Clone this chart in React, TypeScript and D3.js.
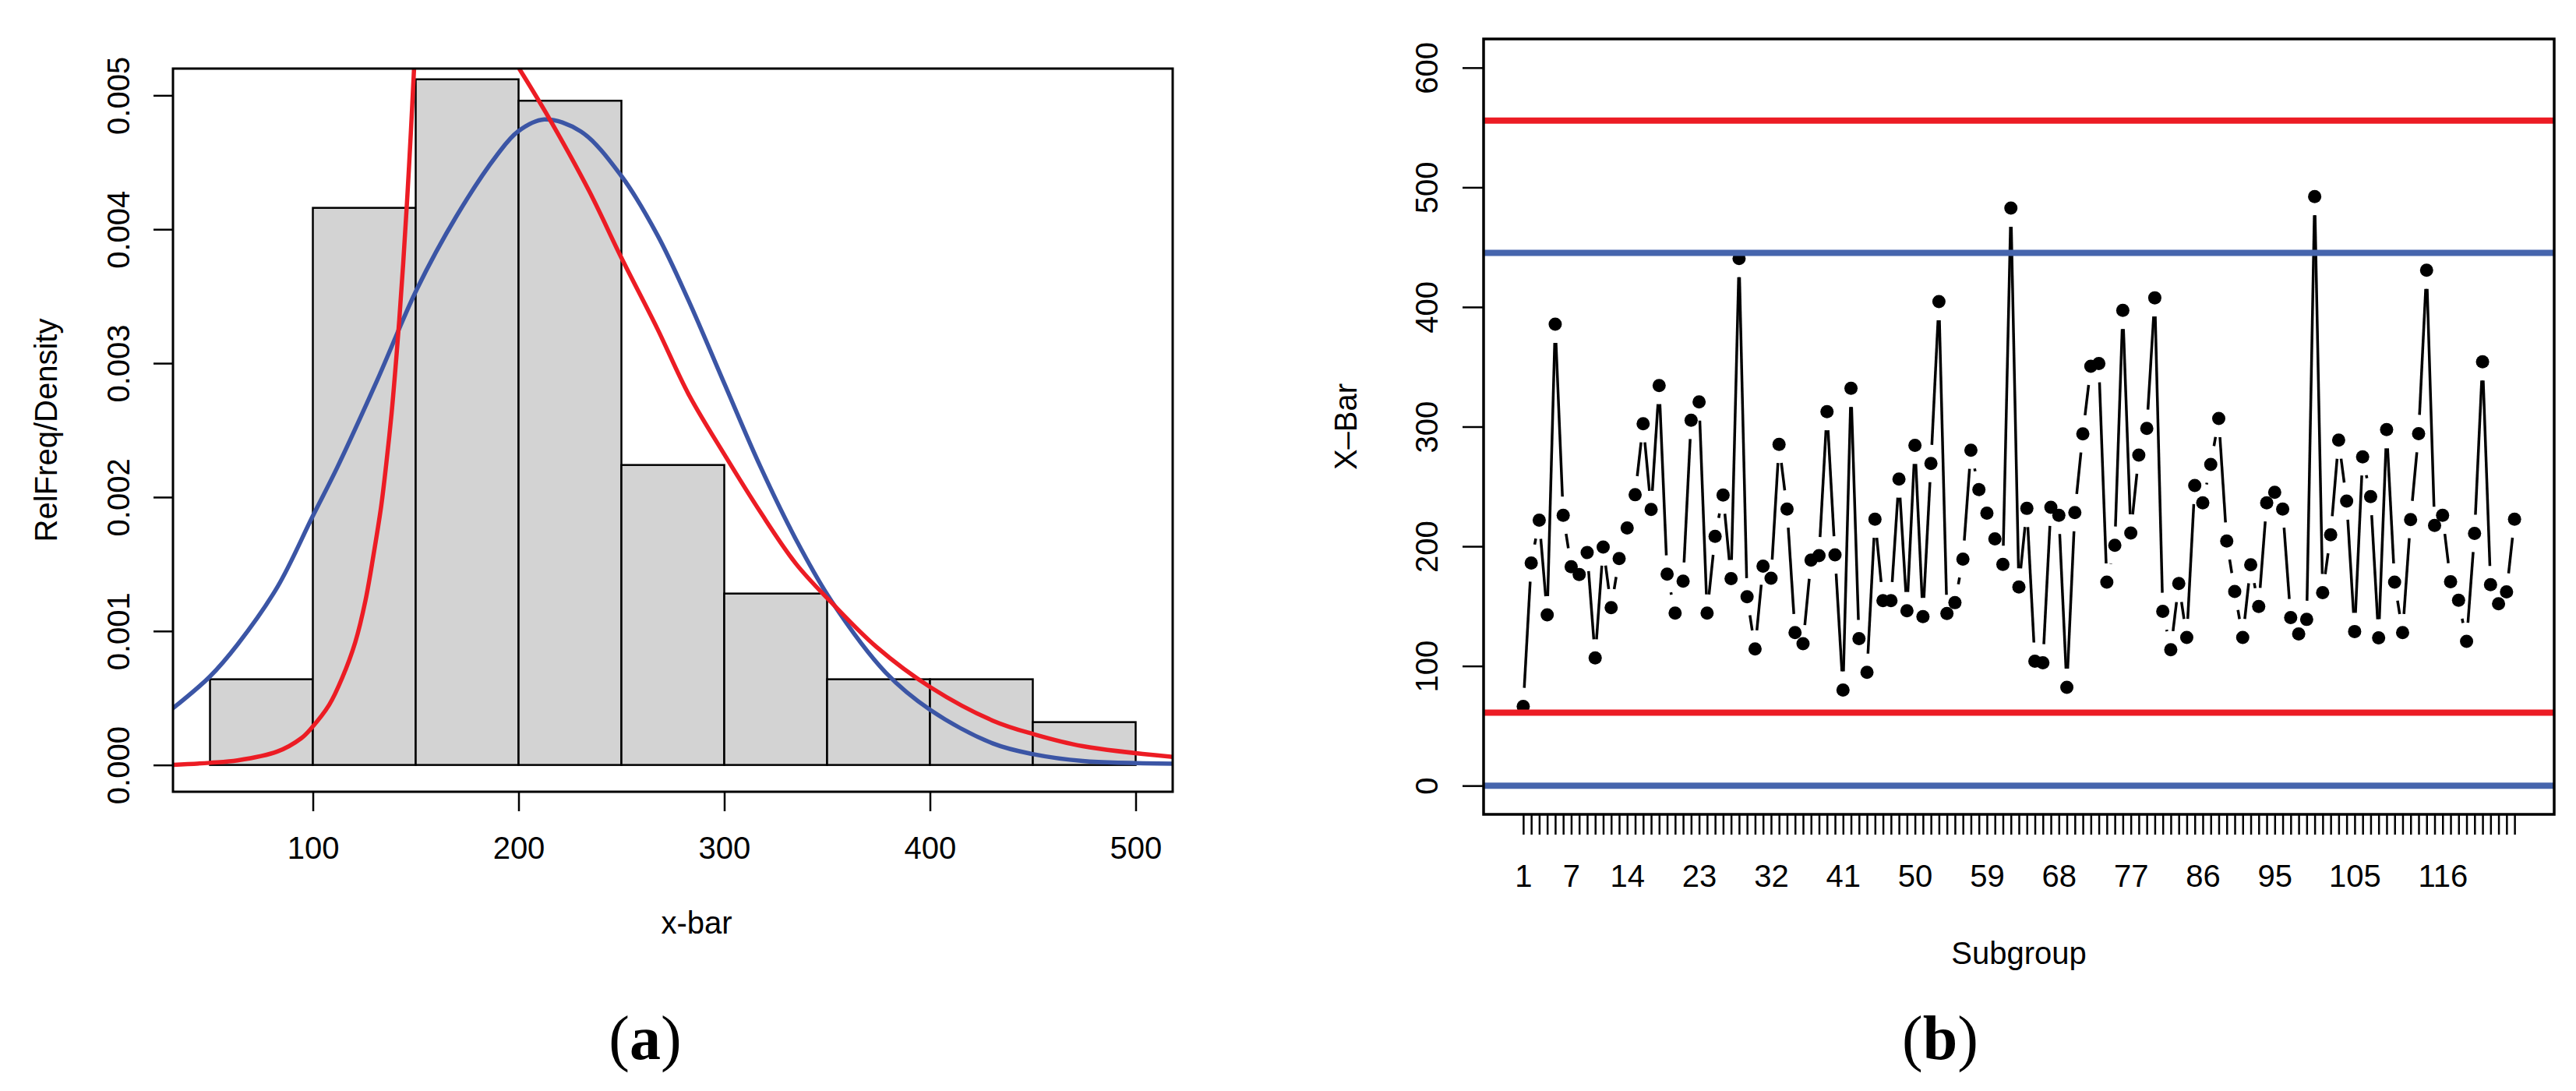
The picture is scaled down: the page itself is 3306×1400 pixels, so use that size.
import React, { useEffect, useRef } from "react";
import * as d3 from "d3";

// ---- panel (a): histogram of subgroup means, density scale ----
const binEdges = [50, 100, 150, 200, 250, 300, 350, 400, 450, 500];
const binDensity = [0.00064, 0.00416, 0.00512, 0.00496, 0.00224, 0.00128, 0.00064, 0.00064, 0.00032];

// blue fitted curve
const normalX = [31.7, 49.9, 63.4, 82.8, 100, 111.8, 131.2, 150.5, 169.9, 189.3, 199.7, 212.5, 230.3, 249.9, 267.4, 282.6, 300, 317.5, 335, 352.3, 378.5, 400.3, 430.7, 450.4, 474.3, 518];
const normalY = [0.00042, 0.00066, 0.0009, 0.00133, 0.00186, 0.00222, 0.00287, 0.00355, 0.00410, 0.00455, 0.00473, 0.00482, 0.00473, 0.0044, 0.00396, 0.00347, 0.00285, 0.00223, 0.00168, 0.00122, 0.00069, 0.00041, 0.00016, 0.00008, 0.00003, 0.00001];

// red fitted curve: rising branch runs off the top, falling branch comes back in
const redRiseX = [31.7, 49.9, 63.4, 82.7, 94.4, 99, 107.9, 114.2, 120.6, 125.6, 129.4, 133.2, 135.7, 138.3, 140.2, 142, 143.9, 145.8, 147.7, 149.2];
const redRiseY = [0, 0.000016, 0.000034, 0.0001, 0.0002, 0.00027, 0.000448, 0.000648, 0.000916, 0.00123, 0.00156, 0.00193, 0.00225, 0.00263, 0.00297, 0.00332, 0.00374, 0.00421, 0.00474, 0.0052];
const redFallX = [200.3, 213.3, 234.5, 249.9, 267.4, 282.6, 300, 317.5, 335, 352.3, 374.1, 400.3, 430.7, 450.4, 474.3, 518];
const redFallY = [0.0052, 0.00487, 0.00428, 0.00379, 0.00326, 0.00277, 0.00232, 0.00189, 0.0015, 0.00121, 0.00088, 0.00058, 0.00033, 0.00023, 0.00014, 0.00006];

const densityTicks = [0, 0.001, 0.002, 0.003, 0.004, 0.005];
const xbarTicks = [100, 200, 300, 400, 500];

// ---- panel (b): X-bar chart ----
const subgroupMeans = [
  66.2, 186.1, 221.8, 142.7, 385.6, 225.9, 182.9, 176.5, 194.8, 106.7,
  199.4, 148.8, 189.8, 215.4, 243.1, 302.4, 230.8, 334.4, 176.8, 144.2,
  170.9, 305.3, 320.7, 144.2, 208.4, 242.8, 173.0, 440.5, 157.8, 114.2,
  183.4, 173.3, 285.2, 231.2, 127.9, 118.6, 188.4, 192.2, 312.6, 192.8,
  79.9, 332.1, 122.9, 94.7, 222.7, 154.6, 154.6, 256.2, 146.2, 284.4,
  141.3, 269.2, 404.5, 143.9, 152.9, 189.3, 280.3, 247.4, 227.7, 206.2,
  184.9, 482.7, 166.0, 231.7, 104.0, 102.6, 232.6, 225.9, 82.2, 228.2,
  294.0, 350.4, 352.7, 170.1, 200.9, 397.2, 211.1, 276.2, 298.6, 407.7,
  145.6, 113.6, 168.9, 123.8, 250.9, 236.4, 268.4, 306.8, 204.4, 162.2,
  123.8, 184.6, 149.7, 236.4, 245.1, 231.1, 140.4, 126.7, 138.9, 492.3,
  161.3, 209.6, 288.7, 237.8, 128.8, 274.8, 241.6, 123.5, 297.5, 170.1,
  127.9, 222.4, 294.2, 430.7, 217.5, 225.9, 170.4, 154.9, 120.6, 210.8,
  354.2, 168.0, 152.0, 161.9, 222.7,
];
const subgroupLabels = [1, 7, 14, 23, 32, 41, 50, 59, 68, 77, 86, 95, 105, 116];
const meanTicks = [0, 100, 200, 300, 400, 500, 600];
const redLimits = [555.8, 61];
const blueLimits = [445.2, 0];

const RED = "#ec1c24";
const BLUE_A = "#3b55a5";
const BLUE_B = "#4665ad";
const SANS = "'Liberation Sans', Arial, Helvetica, sans-serif";

type Sel = d3.Selection<SVGSVGElement, unknown, null, undefined>;

function drawHistogram(svg: Sel) {
  const box = { left: 222, right: 1505, top: 88, bottom: 1016 };
  const x = d3.scaleLinear().domain([32, 518]).range([box.left, box.right]);
  const y = d3.scaleLinear().domain([-0.0002, 0.0052]).range([box.bottom, box.top]);

  svg.append("clipPath").attr("id", "clipA")
    .append("rect")
    .attr("x", box.left).attr("y", box.top)
    .attr("width", box.right - box.left).attr("height", box.bottom - box.top);

  const bins = binDensity.map((d, i) => ({ x0: binEdges[i], x1: binEdges[i + 1], d }));
  svg.append("g").selectAll("rect").data(bins).enter().append("rect")
    .attr("x", d => x(d.x0))
    .attr("y", d => y(d.d))
    .attr("width", d => x(d.x1) - x(d.x0))
    .attr("height", d => y(0) - y(d.d))
    .attr("fill", "#d3d3d3")
    .attr("stroke", "#000")
    .attr("stroke-width", 2.5);

  const line = d3.line<[number, number]>()
    .x(d => x(d[0])).y(d => y(d[1]))
    .curve(d3.curveCatmullRom.alpha(0.5));

  const curves = svg.append("g").attr("clip-path", "url(#clipA)").attr("fill", "none").attr("stroke-width", 5.5);
  curves.append("path").attr("d", line(normalX.map((v, i) => [v, normalY[i]]))).attr("stroke", BLUE_A);
  curves.append("path").attr("d", line(redRiseX.map((v, i) => [v, redRiseY[i]]))).attr("stroke", RED);
  curves.append("path").attr("d", line(redFallX.map((v, i) => [v, redFallY[i]]))).attr("stroke", RED);

  svg.append("rect")
    .attr("x", box.left).attr("y", box.top)
    .attr("width", box.right - box.left).attr("height", box.bottom - box.top)
    .attr("fill", "none").attr("stroke", "#000").attr("stroke-width", 3);

  const yAxis = svg.append("g")
    .attr("transform", `translate(${box.left},0)`)
    .call(d3.axisLeft(y).tickValues(densityTicks).tickSize(25).tickFormat(d3.format(".3f")));
  yAxis.select(".domain").remove();
  yAxis.selectAll("line").attr("stroke-width", 2.5);
  yAxis.selectAll("text")
    .attr("x", null).attr("dy", null)
    .attr("transform", "translate(-56,0) rotate(-90)")
    .attr("text-anchor", "middle");
  yAxis.attr("font-family", SANS).attr("font-size", 40);

  const xAxis = svg.append("g")
    .attr("transform", `translate(0,${box.bottom})`)
    .call(d3.axisBottom(x).tickValues(xbarTicks).tickSize(25).tickFormat(d3.format("d")));
  xAxis.select(".domain").remove();
  xAxis.selectAll("line").attr("stroke-width", 2.5);
  xAxis.selectAll("text").attr("y", 86).attr("dy", null);
  xAxis.attr("font-family", SANS).attr("font-size", 40);

  svg.append("text")
    .attr("transform", `translate(73,${(box.top + box.bottom) / 2}) rotate(-90)`)
    .attr("text-anchor", "middle")
    .attr("font-family", SANS).attr("font-size", 40)
    .text("RelFreq/Density");

  svg.append("text")
    .attr("x", 894).attr("y", 1198)
    .attr("text-anchor", "middle")
    .attr("font-family", SANS).attr("font-size", 40)
    .text("x-bar");
}

function drawXbar(svg: Sel) {
  const box = { left: 1904, right: 3278, top: 50, bottom: 1045 };
  const n = subgroupMeans.length;
  const x = d3.scaleLinear().domain([1 - (n - 1) * 0.04, n + (n - 1) * 0.04]).range([box.left, box.right]);
  const y = d3.scaleLinear().domain([-24, 624]).range([box.bottom, box.top]);

  svg.append("clipPath").attr("id", "clipB")
    .append("rect")
    .attr("x", box.left).attr("y", box.top)
    .attr("width", box.right - box.left).attr("height", box.bottom - box.top);

  const plot = svg.append("g").attr("clip-path", "url(#clipB)");

  // type = "b": segments stop short of each point
  const gap = 24;
  const pts = subgroupMeans.map((v, i) => [x(i + 1), y(v)]);
  const segs: number[][] = [];
  for (let i = 0; i < pts.length - 1; i++) {
    const [x1, y1] = pts[i];
    const [x2, y2] = pts[i + 1];
    const len = Math.hypot(x2 - x1, y2 - y1);
    if (len <= 2 * gap) continue;
    const ux = (x2 - x1) / len, uy = (y2 - y1) / len;
    segs.push([x1 + ux * gap, y1 + uy * gap, x2 - ux * gap, y2 - uy * gap]);
  }
  plot.append("g").selectAll("line").data(segs).enter().append("line")
    .attr("x1", d => d[0]).attr("y1", d => d[1])
    .attr("x2", d => d[2]).attr("y2", d => d[3])
    .attr("stroke", "#000").attr("stroke-width", 3.5);

  plot.append("g").selectAll("circle").data(subgroupMeans).enter().append("circle")
    .attr("cx", (d, i) => x(i + 1))
    .attr("cy", d => y(d))
    .attr("r", 8.5)
    .attr("fill", "#000");

  plot.append("g").selectAll("line").data(redLimits).enter().append("line")
    .attr("x1", box.left).attr("x2", box.right)
    .attr("y1", d => y(d)).attr("y2", d => y(d))
    .attr("stroke", RED).attr("stroke-width", 8);
  plot.append("g").selectAll("line").data(blueLimits).enter().append("line")
    .attr("x1", box.left).attr("x2", box.right)
    .attr("y1", d => y(d)).attr("y2", d => y(d))
    .attr("stroke", BLUE_B).attr("stroke-width", 8);

  svg.append("rect")
    .attr("x", box.left).attr("y", box.top)
    .attr("width", box.right - box.left).attr("height", box.bottom - box.top)
    .attr("fill", "none").attr("stroke", "#000").attr("stroke-width", 3.5);

  const yAxis = svg.append("g")
    .attr("transform", `translate(${box.left},0)`)
    .call(d3.axisLeft(y).tickValues(meanTicks).tickSize(27).tickFormat(d3.format("d")));
  yAxis.select(".domain").remove();
  yAxis.selectAll("line").attr("stroke-width", 2.5);
  yAxis.selectAll("text")
    .attr("x", null).attr("dy", null)
    .attr("transform", "translate(-59,0) rotate(-90)")
    .attr("text-anchor", "middle");
  yAxis.attr("font-family", SANS).attr("font-size", 40);

  const allSubgroups = d3.range(1, n + 1);
  const xAxis = svg.append("g")
    .attr("transform", `translate(0,${box.bottom})`)
    .call(d3.axisBottom(x).tickValues(allSubgroups).tickSize(26)
      .tickFormat(d => (subgroupLabels.includes(+d) ? String(d) : "")));
  xAxis.select(".domain").remove();
  xAxis.selectAll("line").attr("stroke-width", 2.5);
  xAxis.selectAll("text").attr("y", 93).attr("dy", null);
  xAxis.attr("font-family", SANS).attr("font-size", 40);

  svg.append("text")
    .attr("transform", `translate(1741,${(box.top + box.bottom) / 2}) rotate(-90)`)
    .attr("text-anchor", "middle")
    .attr("font-family", SANS).attr("font-size", 40)
    .text("X\u2013Bar");

  svg.append("text")
    .attr("x", (box.left + box.right) / 2).attr("y", 1237)
    .attr("text-anchor", "middle")
    .attr("font-family", SANS).attr("font-size", 40)
    .text("Subgroup");
}

function drawCaption(svg: Sel, cx: number, letter: string) {
  const t = svg.append("text")
    .attr("x", cx).attr("y", 1359)
    .attr("text-anchor", "middle")
    .attr("font-family", "'Liberation Serif', 'Times New Roman', serif")
    .attr("font-size", 80);
  t.append("tspan").text("(");
  t.append("tspan").attr("font-weight", "bold").text(letter);
  t.append("tspan").text(")");
}

export default function App() {
  const ref = useRef<SVGSVGElement>(null);

  useEffect(() => {
    if (!ref.current) return;
    const svg = d3.select(ref.current);
    svg.selectAll("*").remove();
    drawHistogram(svg);
    drawXbar(svg);
    drawCaption(svg, 828, "a");
    drawCaption(svg, 2490, "b");
  }, []);

  return (
    <svg
      ref={ref}
      width={3306}
      height={1400}
      style={{ position: "absolute", left: 0, top: 0, background: "#fff", display: "block" }}
    />
  );
}
